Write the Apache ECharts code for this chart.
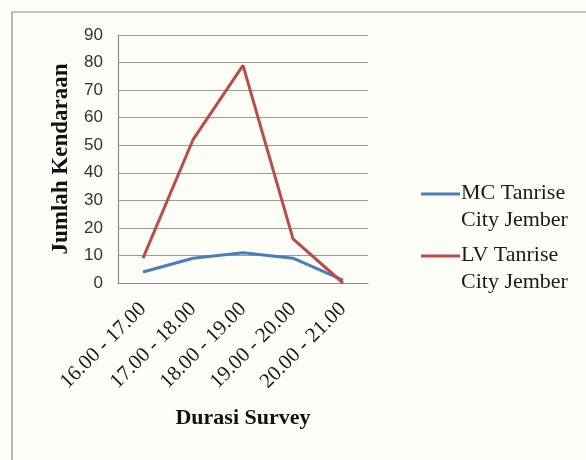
<!DOCTYPE html>
<html><head><meta charset="utf-8">
<script src="https://cdn.jsdelivr.net/npm/echarts@6/dist/echarts.min.js"></script>
<style>html,body{margin:0;padding:0;background:#fdfdf8;}#c{width:586px;height:460px;}</style>
</head><body><div id="c"></div>
<script>
var categories = ['16.00 - 17.00','17.00 - 18.00','18.00 - 19.00','19.00 - 20.00','20.00 - 21.00'];
var seriesNames = ['MC Tanrise\nCity Jember','LV Tanrise\nCity Jember'];
var mcValues = [4, 9, 11, 9, 1];
var lvValues = [9, 52, 79, 16, 0];
var yTicks = [0, 10, 20, 30, 40, 50, 60, 70, 80, 90];
var colors = ['#4a7ebb', '#be4b48'];

var chart = echarts.init(document.getElementById('c'), null, {renderer:'canvas'});
var legendY = [194, 256];
var graphic = [{
  type:'rect', shape:{x:12, y:12, width:700, height:600},
  style:{fill:null, stroke:'#8a8a8a', lineWidth:1.2}, silent:true, z:0
}];
seriesNames.forEach(function(n, i){
  graphic.push({type:'line', shape:{x1:421, y1:legendY[i], x2:460, y2:legendY[i]},
    style:{stroke:colors[i], lineWidth:3}, z:10});
  graphic.push({type:'text', x:461, y:legendY[i]-14,
    style:{text:n, font:'22px "Liberation Serif", "Times New Roman", serif', fill:'#1a1a1a', lineHeight:27, textVerticalAlign:'top'}, z:10});
});
chart.setOption({
  backgroundColor:'#fdfdf8',
  animation:false,
  grid:{left:118, right:218, top:35, bottom:177, containLabel:false},
  graphic:graphic,
  xAxis:{
    type:'category', data:categories, boundaryGap:true,
    axisLine:{lineStyle:{color:'#8c8c8c', width:1.2}},
    axisTick:{show:false},
    axisLabel:{rotate:45, margin:23, interval:0, color:'#1a1a1a',
      fontFamily:'"Liberation Serif", "Times New Roman", serif', fontSize:21},
    name:'Durasi Survey', nameLocation:'middle', nameGap:124,
    nameTextStyle:{fontFamily:'"Liberation Serif", "Times New Roman", serif', fontWeight:'bold', fontSize:22, color:'#111'}
  },
  yAxis:{
    type:'value', min:yTicks[0], max:yTicks[yTicks.length-1], interval:10,
    axisLine:{show:true, lineStyle:{color:'#8c8c8c', width:1.2}},
    axisTick:{show:false},
    splitLine:{lineStyle:{color:'#9a9a9a', width:1.2}},
    axisLabel:{margin:15, color:'#333', fontFamily:'"Liberation Sans", Arial, sans-serif', fontSize:17},
    name:'Jumlah Kendaraan', nameLocation:'middle', nameGap:45, nameRotate:90,
    nameTextStyle:{fontFamily:'"Liberation Serif", "Times New Roman", serif', fontWeight:'bold', fontSize:23, color:'#111'}
  },
  series:[
    {name:seriesNames[0], type:'line', data:mcValues, symbol:'none', lineStyle:{color:colors[0], width:3}, itemStyle:{color:colors[0]}, z:3},
    {name:seriesNames[1], type:'line', data:lvValues, symbol:'none', lineStyle:{color:colors[1], width:3}, itemStyle:{color:colors[1]}, z:4}
  ]
});
</script></body></html>
